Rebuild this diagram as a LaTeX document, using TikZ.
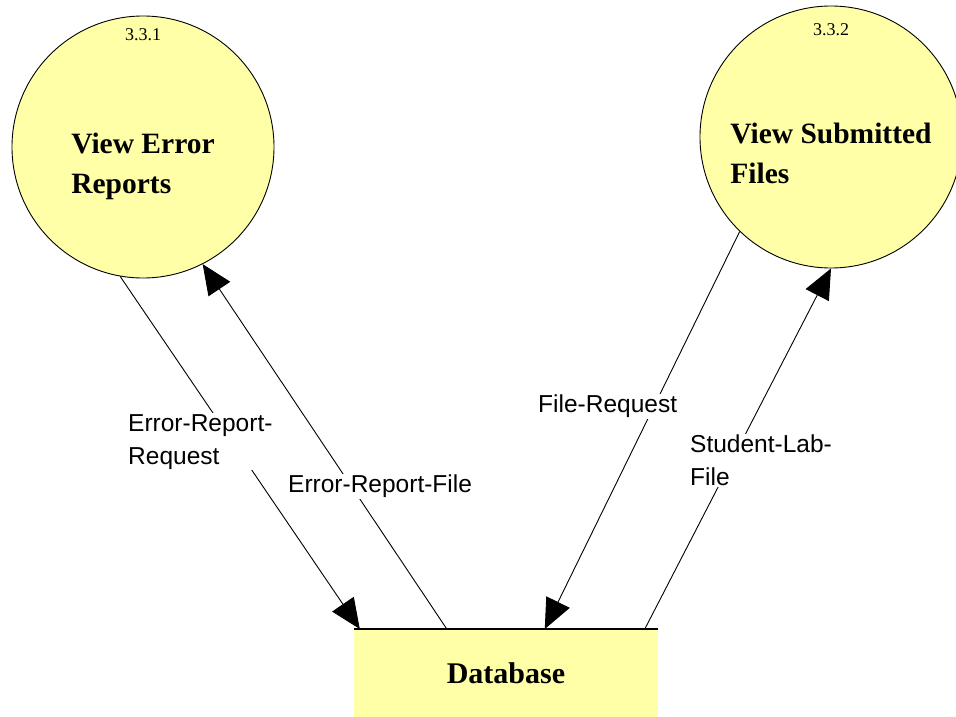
\documentclass[tikz,border=0pt]{standalone}
\usepackage{fontspec}
\setmainfont{Liberation Serif}
\newfontfamily\labelfont{Liberation Sans}
\usetikzlibrary{positioning,arrows.meta,calc}
\definecolor{bubble}{RGB}{255,255,168}
\tikzset{
  process/.style={circle, draw=black, line width=0.9pt, fill=bubble, minimum size=262pt, inner sep=0pt},
  procnum/.style={font=\fontsize{18}{20}\selectfont, inner sep=0pt},
  proctitle/.style={font=\fontsize{29.5}{40}\selectfont\bfseries, align=left, inner sep=0pt},
  store/.style={rectangle, fill=bubble, minimum width=304pt, minimum height=88pt, inner sep=0pt, font=\fontsize{30}{36}\selectfont\bfseries},
  flow/.style={line width=0.9pt, -{Triangle[length=30pt,width=26pt]}},
  flowlabel/.style={font=\labelfont\fontsize{24.5}{33}\selectfont, align=left, fill=white, inner sep=1pt, anchor=north west}
}
\begin{document}
\begin{tikzpicture}[x=1pt,y=-1pt]
			\useasboundingbox (0,0) rectangle (956,717);
			%%%%% START %%%%%
			
			\node[process] (errview) at (143,147) {};
			\node[procnum, below=13pt of errview.north] (errnum) {3.3.1};
			\node[proctitle] (errtitle) at ([yshift=-19pt]errview.center) {View Error\\Reports};
			
			\node[process] (fileview) at (831,137) {};
			\node[procnum, below=18pt of fileview.north] (filenum) {3.3.2};
			\node[proctitle] (filetitle) at ([yshift=-16pt]fileview.center) {View Submitted\\Files};
			
			\node[store, anchor=north] (db) at (506,629) {Database};
			\draw[line width=1.5pt] (db.north west) -- (db.north east);
			
			\draw[flow] (errview.260) -- ([xshift=6pt]db.north west);
			\draw[flow] ([xshift=93pt]db.north west) -- (errview.297);
			\draw[flow] (fileview.226) -- ([xshift=191pt]db.north west);
			\draw[flow] ([xshift=291pt]db.north west) -- (fileview.270);
			
			\node[flowlabel] (reqlabel) at (127,413) {Error-Report-\\Request};
			\node[flowlabel] (replabel) at (287,474) {Error-Report-File};
			\node[flowlabel] (filereqlabel) at (537,394) {File-Request};
			\node[flowlabel] (lablabel) at (689,434) {Student-Lab-\\File};
			
			%%%%% END %%%%%
\end{tikzpicture}
\end{document}
